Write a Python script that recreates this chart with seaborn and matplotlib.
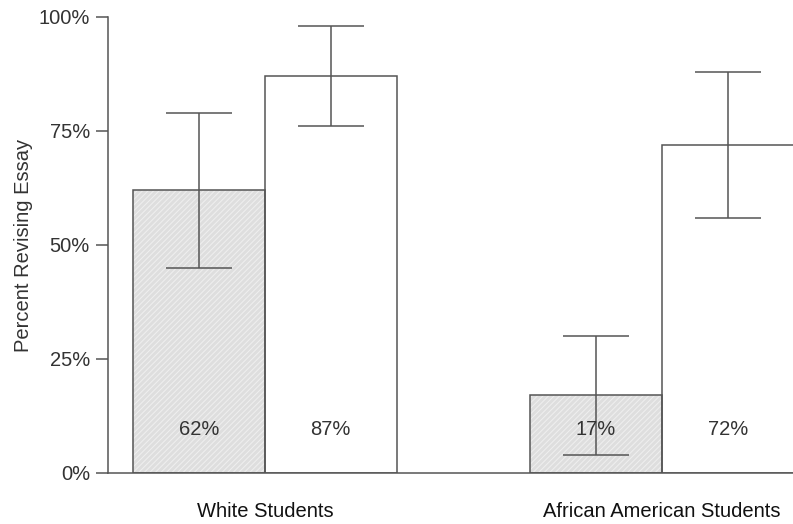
import pandas as pd
import matplotlib
matplotlib.use("Agg")
import matplotlib.pyplot as plt
from matplotlib.patches import Rectangle
from matplotlib.ticker import PercentFormatter
import seaborn as sns

groups = ["White Students", "African American Students"]
conditions = ["Control", "Treatment"]
pct = [[62, 87], [17, 72]]
err_low = [[45, 76], [4, 56]]
err_high = [[79, 98], [30, 88]]

rows = []
for gi, g in enumerate(groups):
    for ci, c in enumerate(conditions):
        rows.append({"group": g, "cond": c, "pct": pct[gi][ci],
                     "lo": err_low[gi][ci], "hi": err_high[gi][ci]})
df = pd.DataFrame(rows)

sns.set_theme(style="white")
plt.rcParams['font.family'] = ['Liberation Sans', 'DejaVu Sans']
plt.rcParams['hatch.linewidth'] = 0.8

edge = "#555555"
fs = 14.5
fig = plt.figure(figsize=(7.93, 5.24), dpi=100)
ax = fig.add_axes([108 / 793, 51 / 524, (793 - 108) / 793, (473 - 17) / 524])

sns.barplot(data=df, x="group", y="pct", hue="cond", order=groups,
            hue_order=conditions, palette=["#dedede", "#ffffff"],
            saturation=1, width=0.664, gap=0, edgecolor=edge, linewidth=1.1,
            legend=False, ax=ax)

# patches come out hue by hue, then group by group
bars = ax.patches[:4]
for ci, c in enumerate(conditions):
    for gi, g in enumerate(groups):
        p = bars[ci * len(groups) + gi]
        cx = p.get_x() + p.get_width() / 2
        row = df[(df.group == g) & (df.cond == c)].iloc[0]
        if ci == 0:
            # light hatch inside, dark outline on top
            p.set_hatch("//////")
            p.set_edgecolor("#eeeeee")
            p.set_linewidth(0)
            ax.add_patch(Rectangle((p.get_x(), p.get_y()), p.get_width(), p.get_height(),
                                   fill=False, edgecolor=edge, linewidth=1.1, zorder=3))
        ax.errorbar(cx, row.pct, yerr=[[row.pct - row.lo], [row.hi - row.pct]],
                    fmt="none", ecolor=edge, elinewidth=1.1, capsize=24,
                    capthick=1.1, zorder=4)
        ax.text(cx, 9.5, f"{row.pct}%", ha="center", va="center",
                fontsize=fs, color="#333333", zorder=5)

ax.set_xlim(-0.395, 1.33)
ax.set_ylim(0, 100)
ax.set_yticks([0, 25, 50, 75, 100])
ax.yaxis.set_major_formatter(PercentFormatter(decimals=0))
ax.set_xlabel("")
ax.set_ylabel("Percent Revising Essay", fontsize=fs, color="#333333", labelpad=4)

for s in ["top", "right"]:
    ax.spines[s].set_visible(False)
for s in ["left", "bottom"]:
    ax.spines[s].set_color(edge)
    ax.spines[s].set_linewidth(1.1)

ax.tick_params(axis="y", left=True, length=9, width=1.1, color=edge,
               labelsize=fs, labelcolor="#333333", pad=4)
ax.tick_params(axis="x", bottom=False, labelsize=fs, labelcolor="#111111", pad=15)

fig.savefig("out.png", dpi=100)
